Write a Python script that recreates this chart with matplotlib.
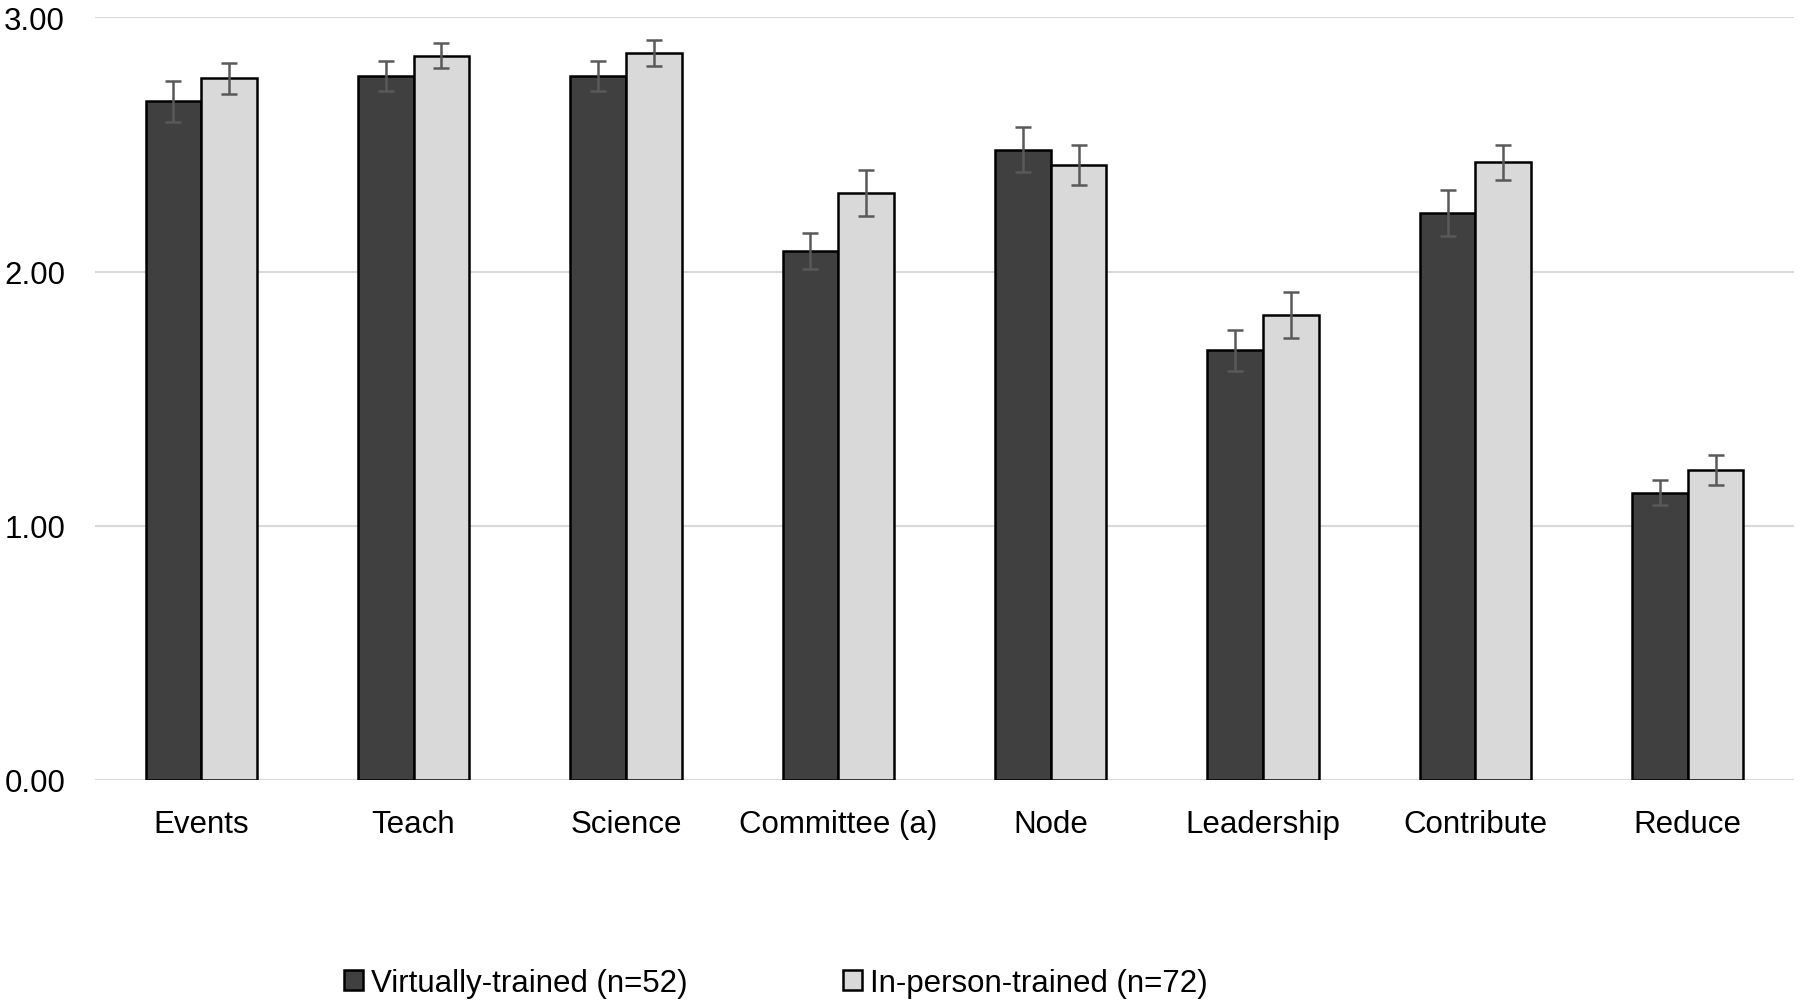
import matplotlib
matplotlib.use("Agg")
import matplotlib.pyplot as plt
import numpy as np

categories = ["Events", "Teach", "Science", "Committee (a)", "Node", "Leadership", "Contribute", "Reduce"]
virtual_vals = [2.67, 2.77, 2.77, 2.08, 2.48, 1.69, 2.23, 1.13]
virtual_err = [0.08, 0.06, 0.06, 0.07, 0.09, 0.08, 0.09, 0.05]
inperson_vals = [2.76, 2.85, 2.86, 2.31, 2.42, 1.83, 2.43, 1.22]
inperson_err = [0.06, 0.05, 0.05, 0.09, 0.08, 0.09, 0.07, 0.06]
series_labels = ["Virtually-trained (n=52)", "In-person-trained (n=72)"]
yticks = [0.0, 1.0, 2.0, 3.0]

plt.rcParams['font.family'] = ['Liberation Sans', 'DejaVu Sans']

fig = plt.figure(figsize=(18, 10.04), dpi=100)
ax = fig.add_axes([95/1800, 1 - 781/1004, (1794-95)/1800, (781-18.4)/1004])

x = np.arange(len(categories))
w = 0.262
err_kw = dict(ecolor="#595959", elinewidth=1.8, capsize=5.8, capthick=1.8)
ax.bar(x - w/2, virtual_vals, w, yerr=virtual_err, color="#404040", edgecolor="black",
       linewidth=1.8, label=series_labels[0], error_kw=err_kw, zorder=3)
ax.bar(x + w/2, inperson_vals, w, yerr=inperson_err, color="#D9D9D9", edgecolor="black",
       linewidth=1.8, label=series_labels[1], error_kw=err_kw, zorder=3)

ax.set_xlim(-0.5, len(categories) - 0.5)
ax.set_ylim(0, 3.0)
ax.set_yticks(yticks)
ax.set_yticklabels([f"{v:.2f}" for v in yticks])
ax.set_xticks(x)
ax.set_xticklabels(categories)
ax.yaxis.grid(True, color="#D9D9D9", linewidth=1.5, zorder=0)
ax.set_axisbelow(True)
for s in ax.spines.values():
    s.set_visible(False)
ax.tick_params(axis='both', length=0, labelsize=22.5, colors="black")
ax.tick_params(axis='y', pad=21.5)
ax.tick_params(axis='x', pad=21)

fig.legend(loc='center left', bbox_to_anchor=(344/1800, 1 - 984/1004), ncol=2,
           frameon=False, fontsize=22.5, handlelength=0.6, handleheight=0.6,
           handletextpad=0.25, columnspacing=5.0, borderpad=0, borderaxespad=0)

fig.savefig("out.png", dpi=100, facecolor="white")
